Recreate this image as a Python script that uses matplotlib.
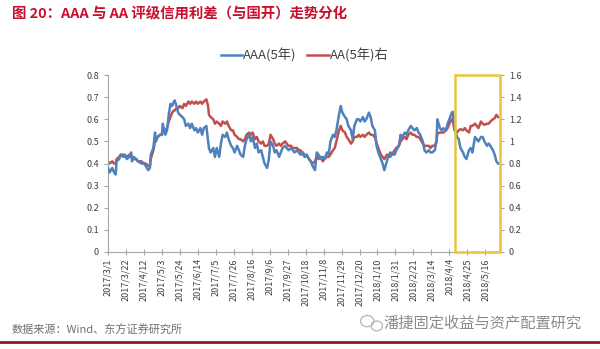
import matplotlib
matplotlib.use("Agg")
import matplotlib.pyplot as plt
import matplotlib.dates as mdates
from matplotlib.patches import Ellipse
import pandas as pd

plt.rcParams['font.family'] = ['Noto Sans CJK SC', 'DejaVu Sans']

# ---- data -------------------------------------------------------------
dates = [
    "2017-03-01", "2017-03-03", "2017-03-06", "2017-03-08", "2017-03-10", "2017-03-11",
    "2017-03-14", "2017-03-16", "2017-03-19", "2017-03-21", "2017-03-23", "2017-03-26",
    "2017-03-28", "2017-03-29", "2017-03-31", "2017-04-03", "2017-04-05", "2017-04-09",
    "2017-04-12", "2017-04-14", "2017-04-17", "2017-04-19", "2017-04-20", "2017-04-23",
    "2017-04-25", "2017-04-26", "2017-04-28", "2017-05-01", "2017-05-03", "2017-05-04",
    "2017-05-07", "2017-05-09", "2017-05-11", "2017-05-13", "2017-05-15", "2017-05-17",
    "2017-05-18", "2017-05-20", "2017-05-22", "2017-05-24", "2017-05-27", "2017-05-29",
    "2017-05-31", "2017-06-03", "2017-06-05", "2017-06-07", "2017-06-10", "2017-06-12",
    "2017-06-14", "2017-06-17", "2017-06-19", "2017-06-21", "2017-06-24", "2017-06-26",
    "2017-06-27", "2017-06-29", "2017-07-02", "2017-07-04", "2017-07-06", "2017-07-09",
    "2017-07-11", "2017-07-13", "2017-07-16", "2017-07-18", "2017-07-20", "2017-07-23",
    "2017-07-25", "2017-07-27", "2017-07-30", "2017-08-01", "2017-08-03", "2017-08-06",
    "2017-08-08", "2017-08-10", "2017-08-13", "2017-08-15", "2017-08-17", "2017-08-20",
    "2017-08-22", "2017-08-24", "2017-08-27", "2017-08-29", "2017-08-31", "2017-09-03",
    "2017-09-05", "2017-09-07", "2017-09-10", "2017-09-12", "2017-09-14", "2017-09-17",
    "2017-09-19", "2017-09-21", "2017-09-24", "2017-09-26", "2017-09-28", "2017-10-01",
    "2017-10-03", "2017-10-05", "2017-10-08", "2017-10-10", "2017-10-12", "2017-10-15",
    "2017-10-17", "2017-10-19", "2017-10-22", "2017-10-24", "2017-10-26", "2017-10-29",
    "2017-10-31", "2017-11-02", "2017-11-05", "2017-11-07", "2017-11-09", "2017-11-12",
    "2017-11-14", "2017-11-16", "2017-11-19", "2017-11-21", "2017-11-23", "2017-11-26",
    "2017-11-28", "2017-11-30", "2017-12-03", "2017-12-05", "2017-12-07", "2017-12-10",
    "2017-12-12", "2017-12-14", "2017-12-17", "2017-12-19", "2017-12-21", "2017-12-24",
    "2017-12-26", "2017-12-28", "2017-12-31", "2018-01-02", "2018-01-04", "2018-01-07",
    "2018-01-09", "2018-01-11", "2018-01-14", "2018-01-16", "2018-01-18", "2018-01-21",
    "2018-01-23", "2018-01-25", "2018-01-28", "2018-01-30", "2018-02-01", "2018-02-04",
    "2018-02-06", "2018-02-08", "2018-02-11", "2018-02-13", "2018-02-15", "2018-02-18",
    "2018-02-20", "2018-02-22", "2018-02-25", "2018-02-27", "2018-03-01", "2018-03-04",
    "2018-03-06", "2018-03-08", "2018-03-11", "2018-03-13", "2018-03-15", "2018-03-18",
    "2018-03-20", "2018-03-21", "2018-03-24", "2018-03-26", "2018-03-28", "2018-03-31",
    "2018-04-02", "2018-04-04", "2018-04-07", "2018-04-08", "2018-04-10", "2018-04-13",
    "2018-04-15", "2018-04-17", "2018-04-20", "2018-04-22", "2018-04-24", "2018-04-27",
    "2018-04-29", "2018-05-01", "2018-05-04", "2018-05-06", "2018-05-08", "2018-05-11",
    "2018-05-13", "2018-05-15", "2018-05-18", "2018-05-20", "2018-05-22", "2018-05-25",
    "2018-05-27", "2018-05-29", "2018-05-31",
]

# AAA 5Y spread (left axis)
aaa_5y = [
    0.38, 0.36, 0.38, 0.36, 0.35, 0.41, 0.42, 0.44, 0.43, 0.44, 0.42, 0.43,
    0.45, 0.41, 0.43, 0.42, 0.41, 0.40, 0.40, 0.39, 0.37, 0.38, 0.44, 0.47,
    0.54, 0.50, 0.52, 0.53, 0.53, 0.58, 0.53, 0.55, 0.62, 0.67, 0.66, 0.68,
    0.685, 0.66, 0.63, 0.62, 0.61, 0.60, 0.57, 0.58, 0.56, 0.58, 0.55, 0.56,
    0.54, 0.56, 0.53, 0.56, 0.57, 0.50, 0.47, 0.45, 0.47, 0.43, 0.47, 0.43,
    0.49, 0.53, 0.52, 0.54, 0.51, 0.48, 0.47, 0.45, 0.48, 0.46, 0.44, 0.43,
    0.48, 0.51, 0.53, 0.50, 0.52, 0.47, 0.49, 0.45, 0.46, 0.43, 0.40, 0.38,
    0.42, 0.50, 0.48, 0.45, 0.46, 0.43, 0.45, 0.47, 0.48, 0.47, 0.46, 0.47,
    0.46, 0.45, 0.46, 0.45, 0.44, 0.45, 0.43, 0.44, 0.42, 0.41, 0.39, 0.37,
    0.45, 0.44, 0.42, 0.43, 0.42, 0.45, 0.44, 0.50, 0.53, 0.52, 0.55, 0.62,
    0.66, 0.63, 0.61, 0.60, 0.57, 0.55, 0.51, 0.57, 0.60, 0.60, 0.59, 0.61,
    0.59, 0.60, 0.63, 0.61, 0.57, 0.55, 0.48, 0.45, 0.42, 0.40, 0.37, 0.41,
    0.44, 0.43, 0.45, 0.44, 0.46, 0.48, 0.53, 0.52, 0.54, 0.53, 0.55, 0.57,
    0.56, 0.55, 0.56, 0.54, 0.53, 0.50, 0.46, 0.45, 0.46, 0.45, 0.45, 0.46,
    0.50, 0.60, 0.56, 0.55, 0.56, 0.55, 0.58, 0.60, 0.63, 0.634, 0.56, 0.52,
    0.51, 0.47, 0.45, 0.43, 0.42, 0.46, 0.47, 0.45, 0.52, 0.51, 0.50, 0.52,
    0.52, 0.50, 0.48, 0.49, 0.48, 0.46, 0.44, 0.41, 0.40,
]

# AA 5Y spread (right axis)
aa_5y = [
    0.82, 0.80, 0.82, 0.80, 0.80, 0.84, 0.86, 0.88, 0.88, 0.86, 0.86, 0.88,
    0.88, 0.86, 0.84, 0.84, 0.82, 0.82, 0.80, 0.80, 0.78, 0.78, 0.84, 0.92,
    1.00, 1.02, 1.04, 1.06, 1.06, 1.08, 1.10, 1.12, 1.18, 1.22, 1.26, 1.28,
    1.28, 1.30, 1.30, 1.32, 1.30, 1.34, 1.32, 1.36, 1.34, 1.36, 1.34, 1.36,
    1.34, 1.36, 1.34, 1.36, 1.38, 1.32, 1.24, 1.22, 1.20, 1.16, 1.18, 1.16,
    1.14, 1.18, 1.16, 1.18, 1.14, 1.10, 1.10, 1.06, 1.04, 1.02, 1.02, 1.00,
    1.02, 1.06, 1.08, 1.06, 1.08, 1.02, 1.04, 1.00, 0.98, 1.00, 0.96, 0.96,
    0.98, 1.06, 1.02, 0.98, 0.96, 0.98, 0.96, 0.98, 1.00, 0.98, 0.96, 0.96,
    0.94, 0.94, 0.94, 0.92, 0.92, 0.88, 0.86, 0.88, 0.84, 0.82, 0.80, 0.82,
    0.86, 0.84, 0.86, 0.82, 0.84, 0.86, 0.86, 0.88, 0.92, 0.94, 1.00, 1.10,
    1.14, 1.10, 1.08, 1.04, 1.02, 0.98, 1.00, 1.04, 1.04, 1.06, 1.04, 1.06,
    1.04, 1.06, 1.08, 1.06, 1.06, 1.04, 0.98, 0.94, 0.88, 0.86, 0.84, 0.88,
    0.86, 0.90, 0.88, 0.92, 0.94, 0.96, 1.00, 1.02, 1.04, 1.02, 1.06, 1.08,
    1.06, 1.06, 1.04, 1.04, 1.02, 0.98, 0.96, 0.96, 0.96, 0.94, 0.96, 0.96,
    1.00, 1.07, 1.08, 1.08, 1.08, 1.10, 1.12, 1.16, 1.20, 1.20, 1.10, 1.08,
    1.10, 1.11, 1.10, 1.12, 1.10, 1.08, 1.14, 1.14, 1.16, 1.14, 1.12, 1.18,
    1.16, 1.15, 1.16, 1.16, 1.18, 1.20, 1.21, 1.24, 1.22,
]

tick_dates = [
    "2017-03-01", "2017-03-22", "2017-04-12", "2017-05-03", "2017-05-24", "2017-06-14",
    "2017-07-05", "2017-07-26", "2017-08-16", "2017-09-06", "2017-09-27", "2017-10-18",
    "2017-11-08", "2017-11-29", "2017-12-20", "2018-01-10", "2018-01-31", "2018-02-21",
    "2018-03-14", "2018-04-04", "2018-04-25", "2018-05-16",
]

highlight_range = ("2018-04-11", "2018-06-02")
x_range = ("2017-03-01", "2018-06-02")

left_ticks = [0, 0.1, 0.2, 0.3, 0.4, 0.5, 0.6, 0.7, 0.8]
right_ticks = [0, 0.2, 0.4, 0.6, 0.8, 1.0, 1.2, 1.4, 1.6]

title = "图 20：AAA 与 AA 评级信用利差（与国开）走势分化"
source = "数据来源：Wind、东方证券研究所"
brand = "潘捷固定收益与资产配置研究"

# ---- figure ----------------------------------------------------------
BLUE = "#4F81BD"
RED = "#C0504D"
GOLD = "#E8C53A"
GRID = "#A6A6A6"
TXT = "#404040"

x = pd.to_datetime(dates)
fig = plt.figure(figsize=(6.0, 3.49), dpi=100)
ax = fig.add_axes([0.18, 0.278, 0.653, 0.507])
ax2 = ax.twinx()

ax.plot(x, aaa_5y, color=BLUE, lw=1.8, label="AAA(5年)", zorder=3)
ax2.plot(x, aa_5y, color=RED, lw=1.8, label="AA(5年)右", zorder=2)

ax.set_zorder(ax2.get_zorder() + 1)
ax.patch.set_visible(False)

xl = pd.to_datetime(x_range)
ax.set_xlim(xl[0], xl[1])
ax.set_ylim(0, 0.8)
ax2.set_ylim(0, 1.6)

ax.set_yticks(left_ticks)
ax.set_yticklabels(["0" if v == 0 else f"{v:g}" for v in left_ticks])
ax2.set_yticks(right_ticks)
ax2.set_yticklabels(["0" if v == 0 else f"{v:g}" for v in right_ticks])

td = pd.to_datetime(tick_dates)
ax.set_xticks(td)
ax.set_xticklabels([f"{d.year}/{d.month}/{d.day}" for d in td], rotation=90)

for a in (ax, ax2):
    for s in a.spines.values():
        s.set_color(GRID)
        s.set_linewidth(0.8)
    a.spines["top"].set_visible(False)
    a.tick_params(colors=GRID, labelcolor=TXT, labelsize=6.5, length=3, width=0.8)
ax.spines["right"].set_visible(False)
ax2.spines["left"].set_visible(False)
ax2.spines["bottom"].set_visible(False)
ax.tick_params(axis="x", direction="inout", length=5, pad=2)

# highlighted recent window
hr = pd.to_datetime(highlight_range)
x0 = mdates.date2num(hr[0])
x1 = mdates.date2num(hr[1])
ax.add_patch(plt.Rectangle((x0, 0), x1 - x0, 0.8, fill=False,
                           edgecolor=GOLD, lw=1.8, zorder=5, clip_on=False))

# legend
h1, l1 = ax.get_legend_handles_labels()
h2, l2 = ax2.get_legend_handles_labels()
fig.legend(h1 + h2, l1 + l2, loc="center", bbox_to_anchor=(0.508, 0.842),
           ncol=2, frameon=False, fontsize=9.5, handlelength=1.6,
           handletextpad=0.1, columnspacing=0.8, labelcolor=TXT)

# header / footer
fig.text(0.02, 0.958, title, color="#C8102E", fontsize=10.4, fontweight="bold",
         va="center", ha="left")
fig.text(0.02, 0.054, source, color="#707070", fontsize=8, va="center")
fig.text(0.97, 0.074, brand, color="#8C8C8C", fontsize=11, va="center", ha="right")

# small chat-bubble badge beside the brand name
fig.add_artist(Ellipse((0.612, 0.08), 0.022, 0.032, fill=False,
                       edgecolor="#B5B5B5", lw=0.9, transform=fig.transFigure))
fig.add_artist(Ellipse((0.628, 0.066), 0.019, 0.028, fill=False,
                       edgecolor="#B5B5B5", lw=0.9, transform=fig.transFigure))

fig.add_artist(plt.Line2D([0, 1], [0.02, 0.02], color="#8B1A1A", lw=2))

fig.savefig("out.png", dpi=100)
